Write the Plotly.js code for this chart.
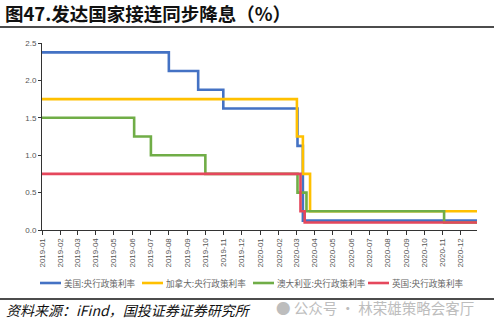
<!DOCTYPE html>
<html>
<head>
<meta charset="utf-8">
<script src="https://cdn.plot.ly/plotly-3.0.1.min.js"></script>
<style>html,body{margin:0;padding:0;background:#fff;}#chart{width:494px;height:326px;}</style>
</head>
<body>
<div id="chart"></div>
<script>
// Policy rates (%), step changes
const usDates = ['2019-01-01','2019-08-01','2019-09-19','2019-10-31','2020-03-03','2020-03-12','2020-12-28'];
const usRates = [2.375, 2.125, 1.875, 1.625, 1.125, 0.125, 0.125];

const caDates = ['2019-01-01','2020-03-02','2020-03-12','2020-03-24','2020-12-28'];
const caRates = [1.75, 1.25, 0.75, 0.25, 0.25];

const auDates = ['2019-01-01','2019-06-04','2019-07-02','2019-10-01','2020-03-03','2020-03-18','2020-11-03','2020-12-28'];
const auRates = [1.5, 1.25, 1.0, 0.75, 0.5, 0.25, 0.1, 0.1];

const ukDates = ['2019-01-01','2020-03-08','2020-03-15','2020-12-28'];
const ukRates = [0.75, 0.25, 0.1, 0.1];

const seriesNames = ['美国:央行政策利率','加拿大:央行政策利率','澳大利亚:央行政策利率','英国:央行政策利率'];
const colors = ['#4472C4','#FFC000','#70AD47','#E5475C'];

const tickVals = [];
const tickText = [];
for (let y of [2019, 2020]) for (let m = 1; m <= 12; m++) {
  const mm = (m < 10 ? '0' : '') + m;
  tickVals.push(y + '-' + mm + '-01');
  tickText.push(y + '-' + mm);
}

const xs = [usDates, caDates, auDates, ukDates];
const ys = [usRates, caRates, auRates, ukRates];
const traces = xs.map((x, i) => ({
  x: x, y: ys[i], name: seriesNames[i], type: 'scatter', mode: 'lines',
  line: {shape: 'hv', color: colors[i], width: 2.6}
}));

const font = 'Noto Sans CJK SC, Noto Sans, sans-serif';

// plot-area geometry (pixels) used to place the custom legend
const L = 42, R = 17, T = 43, B = 96, W = 494, H = 326;
const pw = W - L - R, ph = H - T - B;
const px2x = p => (p - L) / pw;
const py2y = p => (H - B - p) / ph;

const legendSampleStart = [40, 142, 253, 368];
const legendY = py2y(283);
const shapes = [
  {type: 'line', xref: 'paper', yref: 'paper', x0: px2x(0), x1: px2x(494), y0: py2y(27), y1: py2y(27), line: {color: '#111', width: 1.5}},
  {type: 'line', xref: 'paper', yref: 'paper', x0: px2x(0), x1: px2x(494), y0: py2y(299), y1: py2y(299), line: {color: '#111', width: 1.5}}
];
const annotations = [
  {text: '<i>资料来源：iFind，国投证券证券研究所</i>', xref: 'paper', yref: 'paper', x: px2x(4), xanchor: 'left', y: py2y(310), yanchor: 'middle', showarrow: false, font: {size: 14, color: '#111', family: font}},
  {text: '● 公众号 · 林荣雄策略会客厅', xref: 'paper', yref: 'paper', x: px2x(274), xanchor: 'left', y: py2y(307), yanchor: 'middle', showarrow: false, font: {size: 14.5, color: '#bdbdbd', family: font}}
];
seriesNames.forEach((n, i) => {
  const s = legendSampleStart[i];
  shapes.push({type: 'line', xref: 'paper', yref: 'paper', x0: px2x(s), x1: px2x(s + 21), y0: legendY, y1: legendY, line: {color: colors[i], width: 2.6}});
  annotations.push({text: n, xref: 'paper', yref: 'paper', x: px2x(s + 22), xanchor: 'left', y: legendY, yanchor: 'middle', showarrow: false, font: {size: 8.6, color: '#666', family: font}});
});

const layout = {
  width: W, height: H,
  margin: {l: L, r: R, t: T, b: B, autoexpand: false},
  paper_bgcolor: '#fff', plot_bgcolor: '#fff',
  showlegend: false,
  font: {family: font, color: '#555', size: 8},
  xaxis: {
    type: 'date', range: ['2019-01-01','2020-12-28'],
    tickmode: 'array', tickvals: tickVals, ticktext: tickText,
    tickangle: -90, ticks: 'outside', ticklen: 4, tickcolor: '#333',
    showline: true, linecolor: '#333', linewidth: 1, showgrid: false, zeroline: false,
    tickfont: {size: 8, color: '#555', family: 'Liberation Sans, Arial'}
  },
  yaxis: {
    range: [0, 2.5], tickvals: [0, 0.5, 1, 1.5, 2, 2.5], ticktext: ['0.0','0.5','1.0','1.5','2.0','2.5'],
    ticks: 'outside', ticklen: 3, tickcolor: '#333',
    showline: true, linecolor: '#333', linewidth: 1, showgrid: false, zeroline: false,
    tickfont: {size: 8, color: '#555', family: 'Liberation Sans, Arial'}
  },
  title: {
    text: '<b>图47.发达国家接连同步降息（%）</b>',
    x: 0.01, xanchor: 'left', xref: 'container',
    y: 0.957, yanchor: 'middle', yref: 'container',
    font: {size: 18.5, color: '#111', family: font}
  },
  shapes: shapes,
  annotations: annotations
};

Plotly.newPlot('chart', traces, layout, {staticPlot: true, displayModeBar: false});
</script>
</body>
</html>
